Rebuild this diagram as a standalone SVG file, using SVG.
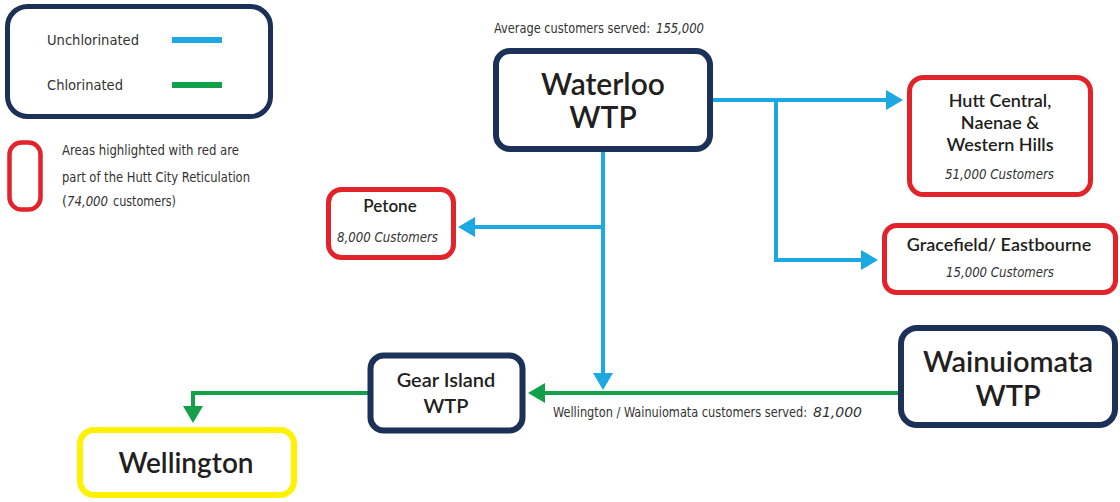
<svg xmlns="http://www.w3.org/2000/svg" width="1120" height="502" viewBox="0 0 1120 502">
<style>
.nav{fill:#fff;stroke:#1c3157;stroke-width:6}
.red{fill:#fff;stroke:#e3232a;stroke-width:5}
.yel{fill:#fff;stroke:#fff200;stroke-width:6}
.t{font-family:Lato,"Noto Sans","Liberation Sans",sans-serif;font-weight:600;fill:#231f20;text-anchor:middle}
.c{font-family:"Liberation Sans Narrow","DejaVu Sans Condensed","Liberation Sans",sans-serif;fill:#333;font-size:14px}
.ci{font-style:italic}
.bl{fill:none;stroke:#1ba8e3;stroke-width:4}
.gr{fill:none;stroke:#12a04a;stroke-width:4}
</style>
<defs>
<marker id="ab" viewBox="0 0 17 20" markerWidth="17" markerHeight="20" refX="4" refY="10" orient="auto" markerUnits="userSpaceOnUse"><path d="M0,0 L17,10 L0,20 z" fill="#1ba8e3"/></marker>
<marker id="ag" viewBox="0 0 17 20" markerWidth="17" markerHeight="20" refX="4" refY="10" orient="auto" markerUnits="userSpaceOnUse"><path d="M0,0 L17,10 L0,20 z" fill="#12a04a"/></marker>
</defs>

<g id="legend">
<rect x="7.5" y="6.5" width="263" height="110" rx="20" fill="#fff" stroke="#1c3157" stroke-width="5"/>
<text class="c" x="47" y="45" font-size="15" textLength="92" lengthAdjust="spacingAndGlyphs">Unchlorinated</text>
<line x1="172" y1="40" x2="222" y2="40" stroke="#1ba8e3" stroke-width="6"/>
<text class="c" x="47" y="90" font-size="15" textLength="76" lengthAdjust="spacingAndGlyphs">Chlorinated</text>
<line x1="172" y1="85" x2="222" y2="85" stroke="#12a04a" stroke-width="6"/>
<rect x="9.5" y="142.5" width="31" height="67" rx="12" fill="#fff" stroke="#e3232a" stroke-width="4.5"/>
<text class="c" x="62" y="155" textLength="177" lengthAdjust="spacingAndGlyphs">Areas highlighted with red are</text>
<text class="c" x="62" y="182" textLength="188" lengthAdjust="spacingAndGlyphs">part of the Hutt City Reticulation</text>
<text class="c" x="62" y="206">(</text>
<text class="c ci" x="67" y="206" textLength="41" lengthAdjust="spacingAndGlyphs">74,000</text>
<text class="c" x="113" y="206" textLength="63" lengthAdjust="spacingAndGlyphs">customers)</text>
</g>

<g id="connectors">
<path class="bl" d="M713,100 H890" marker-end="url(#ab)"/>
<path class="bl" d="M776,100 V260 H865" marker-end="url(#ab)"/>
<path class="bl" d="M603,152 V377" marker-end="url(#ab)"/>
<path class="bl" d="M603,227 H471" marker-end="url(#ab)"/>
<path class="gr" d="M898,393 H541" marker-end="url(#ag)"/>
<path class="gr" d="M368,393 H193 V410" marker-end="url(#ag)"/>
<text class="c" x="807" y="417" font-size="13" text-anchor="end" textLength="254" lengthAdjust="spacingAndGlyphs">Wellington / Wainuiomata customers served:</text>
<text class="c ci" x="813" y="417" font-size="13" textLength="49" lengthAdjust="spacingAndGlyphs">81,000</text>
</g>

<g id="waterloo">
<text class="c" x="650" y="33" font-size="13" text-anchor="end" textLength="156" lengthAdjust="spacingAndGlyphs">Average customers served:</text>
<text class="c ci" x="656" y="33" font-size="13" textLength="48" lengthAdjust="spacingAndGlyphs">155,000</text>
<rect class="nav" x="496" y="51" width="214" height="98" rx="14"/>
<text class="t" x="603" y="95" font-size="30">Waterloo</text>
<text class="t" x="603" y="128" font-size="30">WTP</text>
</g>

<g id="hutt">
<rect class="red" x="909.5" y="77.5" width="181" height="117" rx="14"/>
<text class="t" x="1000" y="107" font-size="18">Hutt Central,</text>
<text class="t" x="1000" y="129" font-size="18">Naenae &amp;</text>
<text class="t" x="1000" y="151" font-size="18">Western Hills</text>
<text class="c ci" x="945" y="179" textLength="109" lengthAdjust="spacingAndGlyphs">51,000  Customers</text>
</g>

<g id="gracefield">
<rect class="red" x="884.5" y="225.5" width="231" height="67" rx="12"/>
<text class="t" x="999" y="251" font-size="18">Gracefield/ Eastbourne</text>
<text class="c ci" x="946" y="277" textLength="108" lengthAdjust="spacingAndGlyphs">15,000  Customers</text>
</g>

<g id="petone">
<rect class="red" x="328.5" y="189.5" width="125" height="68" rx="13"/>
<text class="t" x="390" y="212" font-size="17">Petone</text>
<text class="c ci" x="337" y="242" textLength="101" lengthAdjust="spacingAndGlyphs">8,000  Customers</text>
</g>

<g id="gearisland">
<rect class="nav" x="370.5" y="355.5" width="152" height="75" rx="13" stroke-width="5"/>
<text class="t" x="446" y="387" font-size="20">Gear Island</text>
<text class="t" x="446" y="413" font-size="20">WTP</text>
</g>

<g id="wainuiomata">
<rect class="nav" x="901" y="328" width="214" height="97" rx="16"/>
<text class="t" x="1008" y="372" font-size="29">Wainuiomata</text>
<text class="t" x="1008" y="406" font-size="29">WTP</text>
</g>

<g id="wellington">
<rect class="yel" x="80" y="430" width="214" height="65" rx="14"/>
<text class="t" x="186" y="473" font-size="28">Wellington</text>
</g>
</svg>
